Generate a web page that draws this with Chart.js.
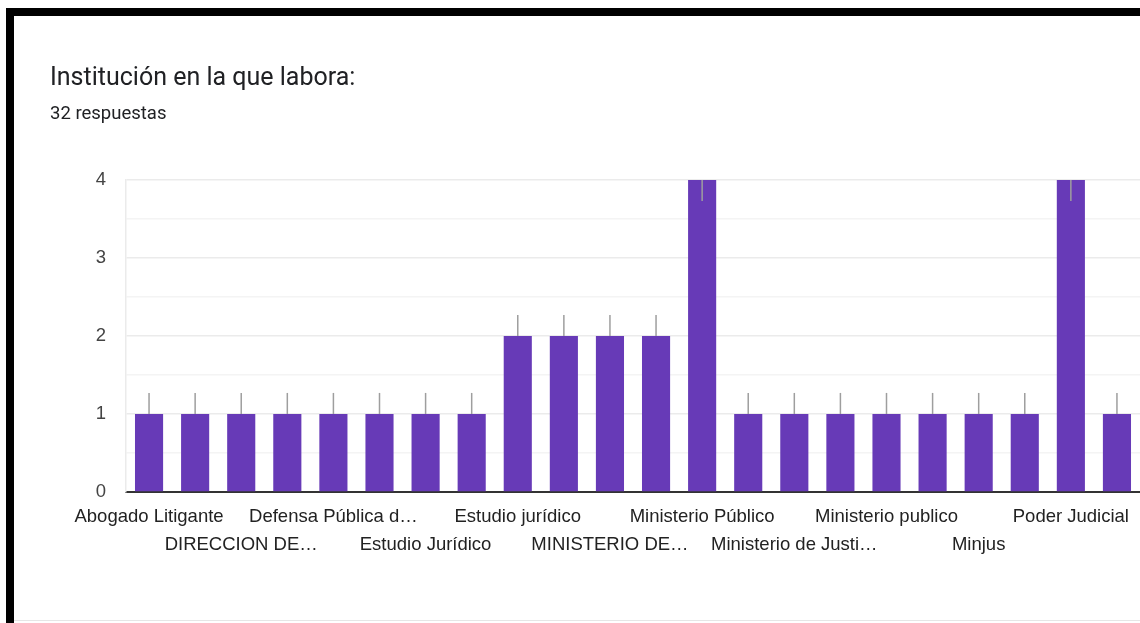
<!DOCTYPE html>
<html>
<head>
<meta charset="utf-8">
<script src="https://cdn.jsdelivr.net/npm/chart.js@4.4.0/dist/chart.umd.min.js"></script>
<style>
  html, body { margin: 0; padding: 0; background: #fff; overflow: hidden; }
  #wrap { position: relative; width: 1140px; height: 623px; }
  #chart { position: absolute; left: 0; top: 0; }
  .bar-top { position: absolute; left: 6px; top: 8px; width: 1134px; height: 8px; background: #000; }
  .bar-left { position: absolute; left: 6px; top: 8px; width: 8px; height: 615px; background: #000; }
  .bottom-line { position: absolute; left: 14px; top: 620px; width: 1126px; height: 1px; background: #e6e6e6; }
  .title { position: absolute; left: 50px; top: 62px; font: 25px Roboto, sans-serif; line-height: 30px; color: #202124; white-space: nowrap; }
  .sub { position: absolute; left: 50px; top: 102px; font: 18.5px Roboto, sans-serif; line-height: 22px; color: #202124; white-space: nowrap; }
</style>
</head>
<body>
<div id="wrap">
  <canvas id="chart" width="1140" height="623"></canvas>
  <div class="bar-top"></div>
  <div class="bar-left"></div>
  <div class="bottom-line"></div>
  <div class="title">Institución en la que labora:</div>
  <div class="sub">32 respuestas</div>
</div>
<script>
const categories = [
  "Abogado Litigante", "Corte Superior de Justicia", "DIRECCION DE…", "Defensa Publica",
  "Defensa Pública d…", "Estudio Juridico", "Estudio Jurídico", "Estudio Jurídico privado",
  "Estudio jurídico", "Independiente", "MINISTERIO DE…", "MINISTERIO PUBLICO",
  "Ministerio Público", "Ministerio de Justicia", "Ministerio de Justi…", "Ministerio del Interior",
  "Ministerio publico", "Ministerio público", "Minjus", "Municipalidad",
  "Poder Judicial", "Poder judicial"
];
const counts = [1,1,1,1,1,1,1,1,2,2,2,2,4,1,1,1,1,1,1,1,4,1];
const yTicks = [0, 1, 2, 3, 4];
const errorLen = 0.27;

const errorBars = {
  id: 'errorBars',
  afterDatasetsDraw(chart) {
    const ctx = chart.ctx;
    const ys = chart.scales.y;
    const meta = chart.getDatasetMeta(0);
    ctx.save();
    ctx.strokeStyle = '#9e9e9e';
    ctx.lineWidth = 1.5;
    meta.data.forEach((bar, i) => {
      const v = counts[i];
      let end = v + errorLen;
      if (end > ys.max) end = v - errorLen;
      ctx.beginPath();
      ctx.moveTo(bar.x, ys.getPixelForValue(v));
      ctx.lineTo(bar.x, ys.getPixelForValue(end));
      ctx.stroke();
    });
    ctx.restore();
  }
};

new Chart(document.getElementById('chart'), {
  type: 'bar',
  data: {
    labels: categories,
    datasets: [{
      data: counts,
      backgroundColor: '#673ab7',
      borderWidth: 0,
      barPercentage: 0.61,
      categoryPercentage: 1.0
    }]
  },
  options: {
    responsive: false,
    animation: false,
    layout: { padding: { top: 180, left: 0, right: 0, bottom: 0 } },
    plugins: { legend: { display: false }, tooltip: { enabled: false } },
    scales: {
      x: {
        grid: { display: false, drawTicks: false },
        border: { display: true, color: '#333', width: 2 },
        afterFit: (s) => { s.height = 131; },
        ticks: {
          autoSkip: false,
          maxRotation: 0,
          minRotation: 0,
          padding: 11,
          color: '#222',
          font: { family: 'Liberation Sans, Arial, sans-serif', size: 18.5, lineHeight: 1.51 },
          callback: function(value, index) {
            if (index % 2) return '';
            const lbl = this.getLabelForValue(value);
            return (index / 2) % 2 === 0 ? [lbl, ''] : ['', lbl];
          }
        }
      },
      y: {
        min: 0,
        max: 4,
        afterFit: (s) => { s.width = 126; },
        afterBuildTicks: (s) => {
          const t = [];
          yTicks.forEach((v, i) => { t.push({ value: v }); if (i < yTicks.length - 1) t.push({ value: v + 0.5 }); });
          s.ticks = t;
        },
        grid: {
          drawTicks: false,
          color: (c) => (c.tick && Number.isInteger(c.tick.value)) ? '#ebebeb' : '#f4f4f4',
          lineWidth: 1.5
        },
        border: { display: true, color: '#ebebeb', width: 1.5 },
        ticks: {
          padding: 20,
          color: '#444',
          font: { family: 'Liberation Sans, Arial, sans-serif', size: 18.5 },
          callback: (v) => Number.isInteger(v) ? String(v) : ''
        }
      }
    }
  },
  plugins: [errorBars]
});
</script>
</body>
</html>
